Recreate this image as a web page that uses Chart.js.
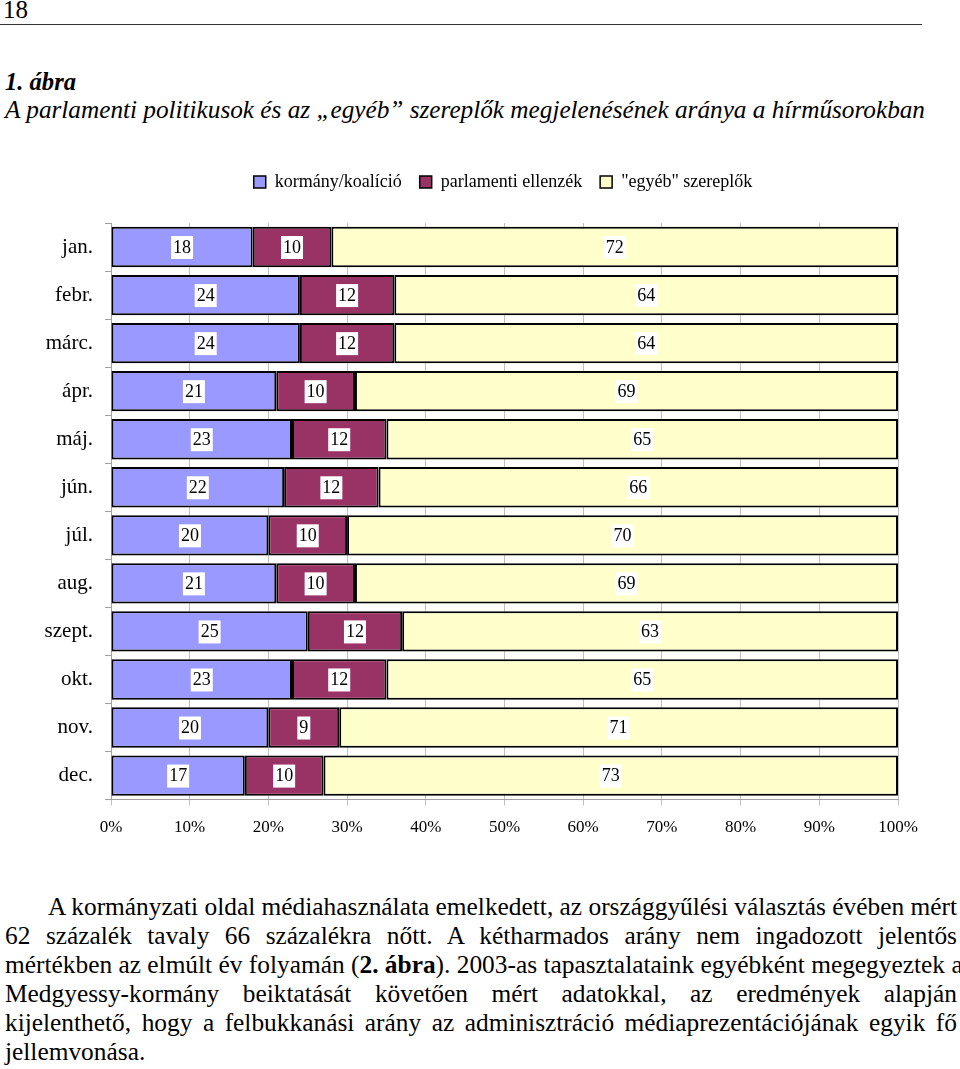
<!DOCTYPE html>
<html><head><meta charset="utf-8">
<script src="https://cdn.jsdelivr.net/npm/chart.js@4.4.1/dist/chart.umd.min.js"></script>
<style>
html,body{margin:0;padding:0;background:#fff;}
body{width:960px;height:1069px;position:relative;overflow:hidden;font-family:"Liberation Serif","Times New Roman","DejaVu Serif",serif;color:#000;}
.abs{position:absolute;white-space:nowrap;transform-origin:0 0;}
#pg{left:3px;top:-4px;font-size:25px;}
#rule{position:absolute;left:0;top:24px;width:922px;height:1px;background:#333;}
#t1{left:5px;top:68px;font-size:25px;font-style:italic;font-weight:bold;}
#t2{left:5px;top:96px;font-size:25px;font-style:italic;}
#chartbox{position:absolute;left:0;top:155px;width:960px;height:695px;}
.ln{position:absolute;left:5px;font-size:25px;white-space:nowrap;transform-origin:0 0;text-align:justify;text-align-last:justify;}
</style></head>
<body>
<div id="pg" class="abs">18</div>
<div id="rule"></div>
<div id="t1" class="abs">1. ábra</div>
<div id="t2" class="abs">A parlamenti politikusok és az „egyéb” szereplők megjelenésének aránya a hírműsorokban</div>
<div id="chartbox"><canvas id="c" width="960" height="695"></canvas></div>
<div id="body"></div>
<script>
const categories = ['jan.','febr.','márc.','ápr.','máj.','jún.','júl.','aug.','szept.','okt.','nov.','dec.'];
const seriesNames = ['kormány/koalíció','parlamenti ellenzék','"egyéb" szereplők'];
const kormany = [18,24,24,21,23,22,20,21,25,23,20,17];
const ellenzek = [10,12,12,10,12,12,10,10,12,12,9,10];
const egyeb = [72,64,64,69,65,66,70,69,63,65,71,73];
const xTicks = [0,10,20,30,40,50,60,70,80,90,100];
const colors = ['#9999FF','#993366','#FFFFCC'];
const FONT = '"Liberation Serif", "Times New Roman", "DejaVu Serif", serif';

const bodyLines = [
 'A kormányzati oldal médiahasználata emelkedett, az országgyűlési választás évében mért',
 '62 százalék tavaly 66 százalékra nőtt. A kétharmados arány nem ingadozott jelentős',
 'mértékben az elmúlt év folyamán (<b>2. ábra</b>). 2003-as tapasztalataink egyébként megegyeztek a',
 'Medgyessy-kormány beiktatását követően mért adatokkal, az eredmények alapján',
 'kijelenthető, hogy a felbukkanási arány az adminisztráció médiaprezentációjának egyik fő',
 'jellemvonása.'
];

function fitWidth(el, target){
  const w = el.getBoundingClientRect().width;
  el.style.transform = 'scaleX(' + (target / w) + ')';
}
fitWidth(document.getElementById('pg'), 25);
fitWidth(document.getElementById('t1'), 71);
fitWidth(document.getElementById('t2'), 920);

const bodyEl = document.getElementById('body');
const tops = [893, 922, 951, 980, 1009, 1038];
const probe = document.createElement('span');
probe.className = 'ln';
probe.style.textAlign = 'left'; probe.style.textAlignLast = 'auto';
probe.innerHTML = bodyLines[0];
bodyEl.appendChild(probe);
const k = 909 / probe.getBoundingClientRect().width;
bodyEl.removeChild(probe);
bodyLines.forEach((t, i) => {
  const d = document.createElement('div');
  d.className = 'ln';
  d.innerHTML = t;
  d.style.top = tops[i] + 'px';
  const last = i === bodyLines.length - 1;
  if (i === 0) { d.style.left = '48px'; d.style.width = (909 / k) + 'px'; }
  else if (!last) { d.style.width = (952 / k) + 'px'; }
  if (last) { d.style.textAlignLast = 'left'; d.style.textAlign = 'left'; }
  d.style.transform = 'scaleX(' + k + ')';
  bodyEl.appendChild(d);
});

const labelPlugin = {
  id: 'boxLabels',
  afterDatasetsDraw(chart) {
    const ctx = chart.ctx;
    ctx.save();
    ctx.font = '18px ' + FONT;
    ctx.textAlign = 'center';
    ctx.textBaseline = 'middle';
    chart.data.datasets.forEach((ds, di) => {
      const meta = chart.getDatasetMeta(di);
      meta.data.forEach((bar, i) => {
        const p = bar.getProps(['x','base','y'], true);
        const cx = (p.x + p.base) / 2;
        const txt = String(ds.data[i]);
        const w = ctx.measureText(txt).width;
        ctx.fillStyle = '#fff';
        ctx.fillRect(cx - w/2 - 2, p.y - 11, w + 4, 23);
        ctx.fillStyle = '#000';
        ctx.fillText(txt, cx, p.y + 1);
      });
    });
    ctx.restore();
  }
};

const legendGap = {
  id: 'legendGap',
  beforeInit(chart) {
    const orig = chart.legend.fit;
    chart.legend.fit = function() { orig.call(this); this.height += 22; };
  },
  afterLayout(chart) {
    chart.legend.left += 54; chart.legend.right += 54;
  }
};

new Chart(document.getElementById('c'), {
  type: 'bar',
  data: {
    labels: categories,
    datasets: [kormany, ellenzek, egyeb].map((d, i) => ({
      label: seriesNames[i],
      data: d,
      backgroundColor: colors[i],
      borderColor: '#000',
      borderWidth: 2,
      borderSkipped: false,
      barPercentage: 0.84,
      categoryPercentage: 1
    }))
  },
  options: {
    indexAxis: 'y',
    responsive: false,
    animation: false,
    layout: { padding: { left: 0, right: 62, top: 0, bottom: 0 } },
    plugins: {
      legend: {
        position: 'top',
        labels: {
          color: '#000',
          font: { family: FONT, size: 18 },
          boxWidth: 12, boxHeight: 12, padding: 18,
          generateLabels(chart) {
            return chart.data.datasets.map((ds, i) => ({
              text: ds.label, fillStyle: ds.backgroundColor, strokeStyle: '#000',
              lineWidth: 1.5, datasetIndex: i, fontColor: '#000'
            }));
          }
        }
      },
      tooltip: { enabled: false }
    },
    scales: {
      x: {
        stacked: true, min: 0, max: 100,
        afterBuildTicks(s) { s.ticks = xTicks.map(v => ({ value: v })); },
        ticks: { color: '#000', font: { family: FONT, size: 17 }, padding: 12,
                 callback: v => v + '%' },
        grid: { color: '#c0c0c0', lineWidth: 1, tickLength: 6 },
        border: { color: '#a0a0a0' }
      },
      y: {
        stacked: true,
        afterFit(s) { s.width = 111; },
        ticks: { color: '#000', font: { family: FONT, size: 21 }, padding: 12 },
        grid: { offset: true, drawOnChartArea: false, color: '#a0a0a0', tickLength: 6 },
        border: { color: '#a0a0a0' }
      }
    }
  },
  plugins: [labelPlugin, legendGap]
});
</script>
</body></html>
